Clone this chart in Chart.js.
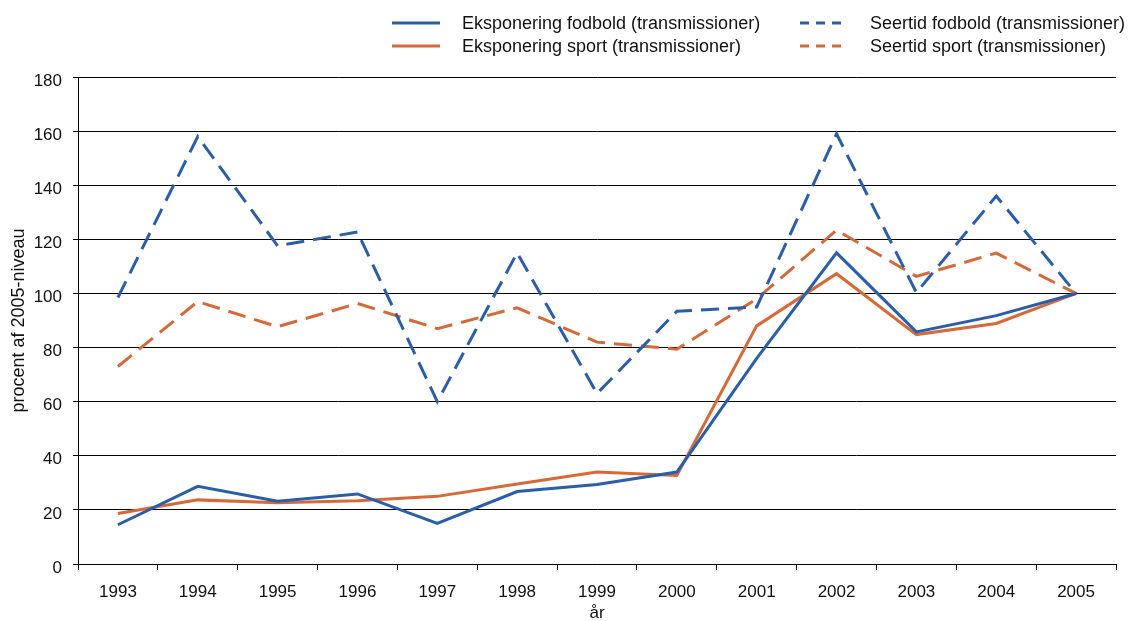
<!DOCTYPE html>
<html>
<head>
<meta charset="utf-8">
<script src="https://cdn.jsdelivr.net/npm/chart.js@4/dist/chart.umd.min.js"></script>
<style>
  body { margin: 0; background: #fff; font-family: "Liberation Sans", Arial, sans-serif; }
  #wrap { position: relative; width: 1136px; height: 621px; }
  #legend { position: absolute; left: 0; top: 0; width: 1136px; height: 70px; font-size: 18px; color: #111; }
  .item { position: absolute; height: 22px; line-height: 22px; white-space: nowrap; }
  .item svg { position: absolute; left: 0; top: 9px; }
  .item span { position: absolute; left: 70px; top: 0; }
</style>
</head>
<body>
<div id="wrap">
  <canvas id="chart" width="1136" height="621"></canvas>
  <div id="legend"></div>
</div>
<script>
// data
const years = ["1993", "1994", "1995", "1996", "1997", "1998", "1999", "2000", "2001", "2002", "2003", "2004", "2005"];
const eksFodbold = [14.5, 28.7, 23.2, 25.9, 15, 26.8, 29.4, 34, 76, 115, 85.8, 91.8, 100];
const eksSport = [18.7, 23.7, 22.6, 23.4, 25, 29.6, 34, 32.7, 88, 107.3, 84.8, 88.9, 100];
const seerFodbold = [98.5, 158, 117.6, 122.7, 60, 115, 63, 93.4, 95, 159, 100.3, 136, 100];
const seerSport = [73, 97, 87.7, 96.3, 87, 94.7, 82, 79.4, 98, 123.4, 106.3, 114.9, 100];
const yTicks = [0, 20, 40, 60, 80, 100, 120, 140, 160, 180];

const BLUE = "#2B5EA9";
const ORANGE = "#D4693A";
const dash = [18, 9];

const series = [
  { label: "Eksponering fodbold (transmissioner)", data: eksFodbold, color: BLUE, dashed: false, x: 392, y: 12 },
  { label: "Eksponering sport (transmissioner)", data: eksSport, color: ORANGE, dashed: false, x: 392, y: 35 },
  { label: "Seertid fodbold (transmissioner)", data: seerFodbold, color: BLUE, dashed: true, x: 800, y: 12 },
  { label: "Seertid sport (transmissioner)", data: seerSport, color: ORANGE, dashed: true, x: 800, y: 35 }
];

// legend (html, two columns)
const legend = document.getElementById("legend");
series.forEach(s => {
  const div = document.createElement("div");
  div.className = "item";
  div.style.left = s.x + "px";
  div.style.top = s.y + "px";
  div.innerHTML = `<svg width="48" height="4"><line x1="0" y1="2" x2="48" y2="2" stroke="${s.color}" stroke-width="3" ${s.dashed ? 'stroke-dasharray="9,7"' : ''}/></svg><span>${s.label}</span>`;
  legend.appendChild(div);
});

const font = { family: "'Liberation Sans', Arial, sans-serif", size: 17 };
const titleFont = { family: "'Liberation Sans', Arial, sans-serif", size: 18 };

new Chart(document.getElementById("chart"), {
  type: 'line',
  data: {
    labels: years,
    datasets: series.map(s => ({
      label: s.label,
      data: s.data,
      borderColor: s.color,
      backgroundColor: s.color,
      borderWidth: 3,
      borderDash: s.dashed ? dash : [],
      pointRadius: 0,
      tension: 0,
      fill: false
    }))
  },
  options: {
    responsive: false,
    animation: false,
    layout: { padding: { top: 77, right: 20, left: 0, bottom: 0 } },
    plugins: {
      legend: { display: false },
      tooltip: { enabled: false }
    },
    scales: {
      x: {
        offset: true,
        grid: { display: true, offset: true, drawOnChartArea: false, color: '#000', tickLength: 6, tickColor: '#000' },
        border: { color: '#000', width: 1 },
        ticks: { color: '#111', font: font, padding: 12, maxRotation: 0 },
        title: { display: true, text: 'år', color: '#111', font: font, padding: { top: 0, bottom: -3 } },
        afterFit: scale => { scale.height = 57; }
      },
      y: {
        min: 0,
        max: 180,
        afterBuildTicks: scale => { scale.ticks = yTicks.map(v => ({ value: v })); },
        grid: { color: '#000', lineWidth: 1, tickLength: 5, tickColor: '#000' },
        border: { color: '#000', width: 1 },
        ticks: { color: '#111', font: font, padding: 11, labelOffset: 4 },
        title: { display: true, text: 'procent af 2005-niveau', color: '#111', font: titleFont, padding: { top: 8, bottom: 4 } },
        afterFit: scale => { scale.width = 78; }
      }
    }
  }
});
</script>
</body>
</html>
